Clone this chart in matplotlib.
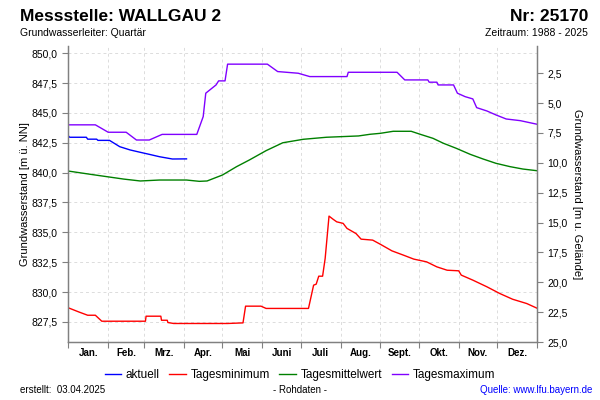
import matplotlib
matplotlib.use("Agg")
import matplotlib.pyplot as plt
from matplotlib.ticker import FixedLocator, FuncFormatter, NullFormatter

plt.rcParams['font.family'] = ['Liberation Sans', 'DejaVu Sans']

# month boundaries (day of year) and labels
month_edges = [0, 31, 59, 90, 120, 151, 181, 212, 243, 273, 304, 334, 365]
month_names = ['Jan.', 'Feb.', 'Mrz.', 'Apr.', 'Mai', 'Juni', 'Juli',
               'Aug.', 'Sept.', 'Okt.', 'Nov.', 'Dez.']

# aktuell (current year)
days_akt = [0, 1, 14, 15, 22, 23, 32, 40, 48, 56, 63, 71, 81, 92]
vals_akt = [843.07, 842.96, 842.96, 842.8, 842.8, 842.7, 842.7, 842.17,
            841.9, 841.7, 841.53, 841.33, 841.14, 841.15]

# Tagesminimum
days_min = [0, 8, 15, 21, 26, 60, 60.5, 72, 72.5, 77, 77.5, 82, 124, 136,
            138, 150, 154, 187, 191, 193, 195, 198, 200, 203, 206, 209,
            214, 217, 224, 228, 237, 243, 252, 261, 269, 279, 287, 295,
            304, 306, 315, 326, 336, 346, 357, 365]
vals_min = [828.68, 828.34, 828.06, 828.06, 827.56, 827.56, 827.98, 827.98,
            827.64, 827.64, 827.45, 827.37, 827.37, 827.42,
            828.82, 828.82, 828.63, 828.63, 830.58, 830.66, 831.33, 831.33,
            832.82, 836.36, 836.11, 835.88,
            835.75, 835.33, 834.9, 834.43, 834.35, 834.0, 833.45, 833.09,
            832.76, 832.53, 832.11, 831.83,
            831.78, 831.42, 831.0, 830.44, 829.88, 829.4, 829.04, 828.65]

# Tagesmittelwert
days_mit = [0, 17, 30, 43, 56, 71, 92, 102, 108, 120, 131, 141, 154, 167,
            183, 201, 226, 235, 243, 253, 267, 274, 284, 292, 302, 313, 323,
            333, 344, 354, 365]
vals_mit = [840.13, 839.86, 839.66, 839.46, 839.3, 839.38, 839.38, 839.27,
            839.3, 839.8, 840.5, 841.06, 841.84, 842.5, 842.79, 842.96,
            843.07, 843.21, 843.29, 843.46, 843.46, 843.21, 842.87, 842.46,
            842.04, 841.53, 841.14, 840.78, 840.5, 840.3, 840.16]

# Tagesmaximum
days_max = [0, 21, 31, 45, 53, 63, 73, 100, 105, 107, 115, 117, 122, 124,
            155, 163, 179, 188, 217, 218, 256, 262, 280, 281, 287, 288, 300,
            303, 309, 315, 318, 326, 333, 341, 352, 365]
vals_max = [844.0, 844.0, 843.38, 843.38, 842.73, 842.73, 843.2, 843.2,
            844.69, 846.65, 847.34, 847.68, 847.68, 849.08, 849.08, 848.46,
            848.32, 848.04, 848.04, 848.4, 848.4, 847.76, 847.76, 847.57,
            847.57, 847.34, 847.34, 846.65, 846.36, 846.17, 845.44, 845.16,
            844.83, 844.49, 844.35, 844.05]

left_ticks = [827.5, 830.0, 832.5, 835.0, 837.5, 840.0, 842.5, 845.0, 847.5, 850.0]
right_ticks = [2.5, 5.0, 7.5, 10.0, 12.5, 15.0, 17.5, 20.0, 22.5, 25.0]
ground_level = 850.82  # terrain height -> depth = ground_level - level
ymin, ymax = 825.82, 850.6

fig = plt.figure(figsize=(6, 4), dpi=100)
ax = fig.add_axes([0.114, 0.145, 0.781, 0.74])

ax.plot(days_akt, vals_akt, color='#0000ff', lw=1.0, label='aktuell')
ax.plot(days_min, vals_min, color='#ff0000', lw=1.0, label='Tagesminimum')
ax.plot(days_mit, vals_mit, color='#008000', lw=1.0, label='Tagesmittelwert')
ax.plot(days_max, vals_max, color='#8000ff', lw=1.0, label='Tagesmaximum')

ax.set_xlim(0, 365)
ax.set_ylim(ymin, ymax)

comma = FuncFormatter(lambda v, p: f'{v:.1f}'.replace('.', ','))

ax.set_yticks(left_ticks)
ax.yaxis.set_major_formatter(comma)
ax.xaxis.set_major_locator(FixedLocator(month_edges))
ax.xaxis.set_major_formatter(NullFormatter())
mids = [(month_edges[i] + month_edges[i + 1]) / 2 for i in range(12)]
ax.xaxis.set_minor_locator(FixedLocator(mids))
ax.set_xticklabels(month_names, minor=True)

ax.grid(True, which='major', color='#dcdcdc', ls=(0, (3, 3)), lw=0.7)
ax.tick_params(axis='both', which='major', direction='out', length=4,
               color='#808080', labelsize=7.5)
ax.tick_params(axis='x', which='minor', length=0, labelsize=7, pad=4)
for lab in ax.get_xticklabels(minor=True):
    lab.set_fontweight('bold')

for side in ['left', 'bottom', 'right']:
    ax.spines[side].set_color('#808080')
    ax.spines[side].set_linewidth(1.0)
ax.spines['top'].set_visible(False)

ax.set_ylabel('Grundwasserstand [m ü. NN]', fontsize=8, labelpad=1.5)

ax2 = ax.twinx()
ax2.set_ylim(ground_level - ymin, ground_level - ymax)
ax2.set_yticks(right_ticks)
ax2.yaxis.set_major_formatter(comma)
ax2.tick_params(axis='y', direction='out', length=4, color='#808080', labelsize=7.5)
for side in ['left', 'bottom', 'right']:
    ax2.spines[side].set_color('#808080')
ax2.spines['top'].set_visible(False)
ax2.set_ylabel('Grundwasserstand [m u. Gelände]', fontsize=8, rotation=270,
               labelpad=10)

fig.text(0.034, 0.958, 'Messstelle: WALLGAU 2', fontsize=12.5, fontweight='bold',
         va='center', ha='left')
fig.text(0.98, 0.958, 'Nr: 25170', fontsize=12.5, fontweight='bold',
         va='center', ha='right')
fig.text(0.034, 0.918, 'Grundwasserleiter: Quartär', fontsize=7.5,
         va='center', ha='left')
fig.text(0.98, 0.918, 'Zeitraum: 1988 - 2025', fontsize=7.5,
         va='center', ha='right')

handles, labels = ax.get_legend_handles_labels()
fig.legend(handles, labels, loc='center', bbox_to_anchor=(0.5, 0.063),
           ncol=4, frameon=False, fontsize=8.5, handlelength=1.4,
           handletextpad=0.4, columnspacing=0.8)

fig.text(0.034, 0.024, 'erstellt:  03.04.2025', fontsize=7, va='center', ha='left')
fig.text(0.5, 0.024, '- Rohdaten -', fontsize=7, va='center', ha='center')
fig.text(0.987, 0.024, 'Quelle: www.lfu.bayern.de', fontsize=7, color='#0000ff',
         va='center', ha='right')

fig.savefig('out.png', dpi=100)
